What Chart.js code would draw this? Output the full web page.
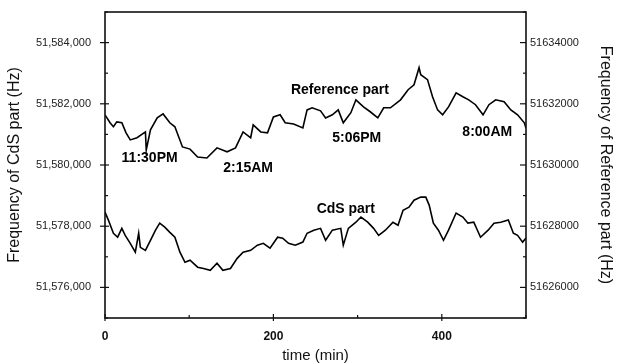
<!DOCTYPE html>
<html>
<head>
<meta charset="utf-8">
<script src="https://cdn.jsdelivr.net/npm/chart.js@4.4.0/dist/chart.umd.min.js"></script>
<style>
  body { margin: 0; background: #fff; }
  #wrap { width: 619px; height: 363px; }
</style>
</head>
<body>
<div id="wrap"><canvas id="freqChart" width="619" height="363"></canvas></div>
<script>
// Reference part, read against the right axis (Hz)
let refTime = [0,6,10,14,20,25,30,38,48,49,54,62,69,77,83,92,101,110,121,133,145,155,164,173,176,185,193,200,208,214,224,235,240,246,256,262,270,277,283,292,298,307,315,324,331,339,351,360,367,373,375,383,389,395,401,408,417,425,432,440,449,456,464,474,482,490,498,500];
let refFreq = [51631640,51631380,51631250,51631410,51631380,51631050,51630820,51630890,51631080,51630490,51631150,51631540,51631670,51631380,51631250,51630590,51630520,51630260,51630230,51630560,51630430,51630560,51631080,51630890,51631310,51631080,51631050,51631570,51631640,51631380,51631340,51631210,51631800,51631870,51631770,51631540,51631640,51631800,51631380,51631710,51632130,51631900,51631740,51631540,51631870,51631870,51632130,51632460,51632620,51633180,51632950,51632790,51632230,51631800,51631640,51631900,51632360,51632230,51632130,51631970,51631640,51631970,51632130,51632070,51631800,51631640,51631380,51631210];

// CdS part, read against the left axis (Hz)
let cdsTime = [0,4,10,15,20,24,30,36,40,42,48,54,60,65,71,77,83,89,95,101,110,117,125,133,140,149,157,164,173,181,188,196,205,211,218,226,235,240,248,256,262,270,280,283,289,298,304,312,319,325,333,342,348,354,361,367,375,381,385,390,396,402,408,417,425,431,438,446,455,462,470,479,485,490,496,500];
let cdsFreq = [51578460,51578200,51577770,51577640,51577930,51577700,51577440,51577150,51577770,51577310,51577210,51577540,51577870,51578100,51577970,51577800,51577640,51577150,51576820,51576890,51576660,51576620,51576560,51576790,51576560,51576620,51576950,51577150,51577210,51577380,51577440,51577280,51577640,51577610,51577440,51577380,51577480,51577770,51577870,51577930,51577540,51577870,51577930,51577380,51577930,51578130,51578300,51578130,51577930,51577700,51577870,51578130,51578030,51578520,51578620,51578850,51578950,51578950,51578690,51578100,51577870,51577540,51577870,51578430,51578300,51578100,51578130,51577640,51577870,51578100,51578130,51578200,51577770,51577700,51577480,51577610];

// text written inside the plot (time in min, left-axis Hz)
let noteText = ['Reference part', '11:30PM', '2:15AM', '5:06PM', '8:00AM', 'CdS part'];
let noteTime = [279, 53, 170, 299, 454, 286];
let noteFreq = [51582460, 51580230, 51579900, 51580890, 51581080, 51578560];

const FONT = '"Liberation Sans", Arial, sans-serif';

function line(c, x1, y1, x2, y2) {
    c.beginPath();
    c.moveTo(x1, y1);
    c.lineTo(x2, y2);
    c.stroke();
}

const frameAndTicks = {
    id: 'frameAndTicks',
    afterDraw(chart) {
        const c = chart.ctx;
        const area = chart.chartArea;
        const x = chart.scales.x, yl = chart.scales.y, yr = chart.scales.y2;
        c.save();
        c.strokeStyle = '#111';
        c.lineWidth = 1.6;
        c.strokeRect(area.left, area.top, area.right - area.left, area.bottom - area.top);
        c.lineWidth = 1.2;
        yl.ticks.forEach(t => {
            const py = yl.getPixelForValue(t.value);
            const major = Math.round(t.value) % 2000 === 0;
            line(c, area.left - (major ? 5 : 0), py, area.left + (major ? 4 : 3), py);
        });
        yr.ticks.forEach(t => {
            const py = yr.getPixelForValue(t.value);
            const major = Math.round(t.value) % 2000 === 0;
            line(c, area.right - (major ? 6 : 3), py, area.right, py);
        });
        x.ticks.forEach(t => {
            const px = x.getPixelForValue(t.value);
            const major = t.value % 200 === 0;
            line(c, px, area.bottom - (major ? 4 : 3), px, area.bottom + (major ? 3 : 0));
        });
        c.font = 'bold 14px ' + FONT;
        c.textAlign = 'center';
        c.textBaseline = 'middle';
        c.fillStyle = '#000';
        noteText.forEach((s, i) => {
            c.fillText(s, x.getPixelForValue(noteTime[i]), yl.getPixelForValue(noteFreq[i]));
        });
        c.restore();
    }
};

// fixed axis boxes, no extra label overhang
function fitY(width) {
    return s => {
        s.width = width;
        s.paddingTop = 0;
        s.paddingBottom = 0;
    };
}

let ctx = document.getElementById('freqChart').getContext('2d');
let freqChart = new Chart(ctx, {
    type: 'line',
    data: {
        datasets: [{
            label: 'Reference part',
            data: refTime.map((t, i) => ({x: t, y: refFreq[i]})),
            yAxisID: 'y2',
            borderColor: '#000',
            borderWidth: 1.6,
            pointRadius: 0,
            tension: 0,
            fill: false
        }, {
            label: 'CdS part',
            data: cdsTime.map((t, i) => ({x: t, y: cdsFreq[i]})),
            yAxisID: 'y',
            borderColor: '#000',
            borderWidth: 1.6,
            pointRadius: 0,
            tension: 0,
            fill: false
        }]
    },
    options: {
        responsive: false,
        animation: false,
        layout: { padding: { top: 12, left: 0, right: 0, bottom: 0 } },
        plugins: { legend: { display: false }, tooltip: { enabled: false } },
        scales: {
            x: {
                type: 'linear',
                min: 0,
                max: 500,
                grid: { display: false, drawTicks: false },
                border: { display: false },
                ticks: {
                    stepSize: 100,
                    padding: 11,
                    color: '#111',
                    font: { family: FONT, size: 12, weight: 'bold' },
                    callback: v => v % 200 === 0 ? String(v) : ''
                },
                title: {
                    display: true,
                    text: 'time (min)',
                    color: '#111',
                    padding: 0,
                    font: { family: FONT, size: 15, lineHeight: 1 }
                },
                afterFit: s => {
                    s.height = 45;
                    s.paddingLeft = 0;
                    s.paddingRight = 0;
                }
            },
            y: {
                position: 'left',
                min: 51575000,
                max: 51585000,
                grid: { display: false, drawTicks: false },
                border: { display: false },
                ticks: {
                    stepSize: 1000,
                    autoSkip: false,
                    padding: 14,
                    color: '#222',
                    font: { family: FONT, size: 11 },
                    callback: v => Math.round(v) % 2000 === 0 ? Math.round(v).toLocaleString('en-US') : ''
                },
                title: {
                    display: true,
                    text: 'Frequency of CdS part (Hz)',
                    color: '#111',
                    padding: { top: 5, bottom: 0 },
                    font: { family: FONT, size: 16 }
                },
                afterFit: fitY(105)
            },
            y2: {
                position: 'right',
                min: 51625000,
                max: 51635000,
                grid: { display: false, drawTicks: false },
                border: { display: false },
                ticks: {
                    stepSize: 1000,
                    autoSkip: false,
                    padding: 4,
                    color: '#222',
                    font: { family: FONT, size: 11 },
                    callback: v => Math.round(v) % 2000 === 0 ? String(Math.round(v)) : ''
                },
                title: {
                    display: true,
                    text: 'Frequency of Reference part (Hz)',
                    color: '#111',
                    padding: { top: 4, bottom: 0 },
                    font: { family: FONT, size: 16 }
                },
                afterFit: fitY(93)
            }
        }
    },
    plugins: [frameAndTicks]
});
</script>
</body>
</html>
